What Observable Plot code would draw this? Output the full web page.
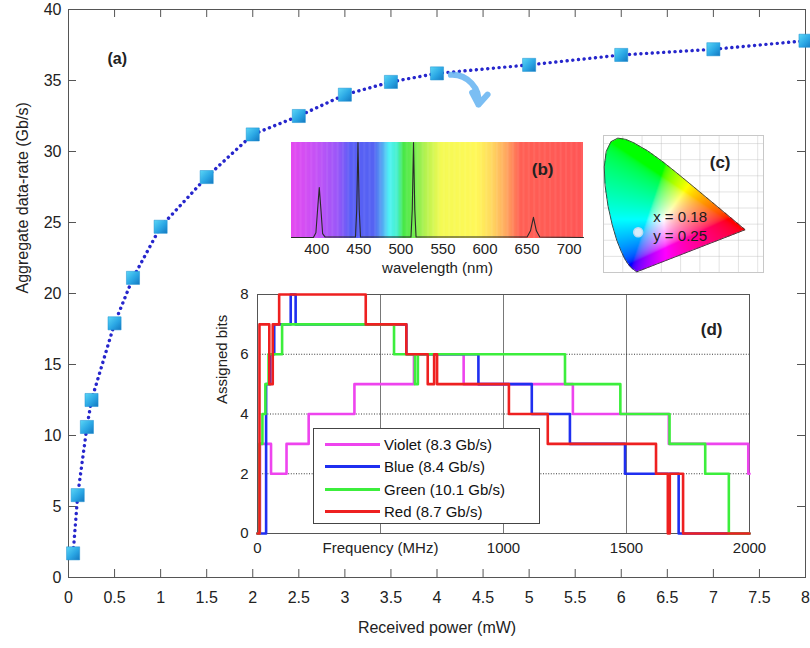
<!DOCTYPE html>
<html><head><meta charset="utf-8">
<script src="https://cdn.jsdelivr.net/npm/d3@7"></script>
<script src="https://cdn.jsdelivr.net/npm/@observablehq/plot@0.6"></script>
<style>
body{margin:0;background:#fff;}
#root{position:relative;width:810px;height:648px;font-family:"Liberation Sans",Arial,sans-serif;overflow:hidden;}
#root svg{position:absolute;}
.legend{position:absolute;background:#fff;border:1px solid #444;box-sizing:border-box;padding-top:4px;font-size:15px;color:#111;}
.legend .row{display:flex;align-items:center;height:22.5px;}
.legend .sw{display:inline-block;width:55px;height:3px;margin-left:11px;margin-right:4px;}
</style></head><body><div id="root"></div>
<script>
// ---------- (a) aggregate data-rate ----------
const powerMw = [0.05, 0.1, 0.2, 0.25, 0.5, 0.7, 1, 1.5, 2, 2.5, 3, 3.5, 4, 5, 6, 7, 8];
const rateGbps = [1.7, 5.8, 10.6, 12.5, 17.9, 21.1, 24.7, 28.2, 31.2, 32.5, 34.0, 34.9, 35.5, 36.1, 36.8, 37.2, 37.8];
const powerTicks = [0, 0.5, 1, 1.5, 2, 2.5, 3, 3.5, 4, 4.5, 5, 5.5, 6, 6.5, 7, 7.5, 8];
const rateTicks = [0, 5, 10, 15, 20, 25, 30, 35, 40];
const arrowFrom = [4.15, 35.4];
const arrowTo = [4.45, 33.3];

// ---------- (b) spectrum ----------
const waveTicks = [400, 450, 500, 550, 600, 650, 700];
const specStops = [370, 400, 425, 440, 468, 478, 486, 496, 503, 515, 530, 548, 590, 608, 625, 642, 717];
const specColors = ["#e44af0", "#c453f6", "#9a58f8", "#5a5ff6", "#5563f2", "#55a8f2", "#4ff2f6", "#47f0c8", "#48e848", "#70ec50", "#b8f250", "#f4fa55", "#fff858", "#ffd860", "#ffa860", "#ff6055", "#ff5656"];
const specWavelength = [370, 396, 399, 401, 403, 405, 407, 410, 446, 447.5, 449, 450.5, 452, 512, 513.5, 515, 516.5, 518, 650, 654, 657.5, 661, 665, 717];
const specIntensity  = [0.01, 0.01, 0.06, 0.3, 0.53, 0.3, 0.05, 0.015, 0.015, 0.3, 1.0, 0.3, 0.015, 0.015, 0.3, 1.0, 0.3, 0.015, 0.015, 0.08, 0.22, 0.08, 0.015, 0.01];

// ---------- (c) chromaticity ----------
const locusX = [0.1741, 0.1714, 0.1644, 0.1566, 0.1440, 0.1241, 0.1096, 0.0913, 0.0687, 0.0454, 0.0235, 0.0082, 0.0039, 0.0139, 0.0389, 0.0743, 0.1142, 0.1547, 0.2296, 0.3016, 0.3731, 0.4441, 0.5125, 0.5752, 0.6270, 0.6658, 0.6915, 0.7190, 0.7347];
const locusY = [0.0050, 0.0051, 0.0109, 0.0177, 0.0297, 0.0578, 0.0868, 0.1327, 0.2007, 0.2950, 0.4127, 0.5384, 0.6548, 0.7502, 0.8120, 0.8338, 0.8262, 0.8059, 0.7543, 0.6923, 0.6245, 0.5547, 0.4866, 0.4242, 0.3725, 0.3340, 0.3083, 0.2809, 0.2653];
const chromaX = [0.18];
const chromaY = [0.25];
const chromaGrid = [0.1, 0.2, 0.3, 0.4, 0.5, 0.6, 0.7, 0.8];

// ---------- (d) assigned bits ----------
const seriesNames = ["Violet (8.3 Gb/s)", "Blue (8.4 Gb/s)", "Green (10.1 Gb/s)", "Red (8.7 Gb/s)"];
const seriesColors = ["#ee44ee", "#1f2ff0", "#3cee3c", "#ee2020"];
const violetF = [0, 10, 55, 118, 208, 394, 636, 838, 1282, 1672, 1995, 2000];
const violetB = [0, 3, 2, 3, 4, 5, 6, 5, 4, 3, 2, 2];
const blueF = [0, 35, 52, 68, 135, 155, 605, 898, 1115, 1270, 1494, 1712, 2000];
const blueB = [0, 5, 6, 7, 8, 7, 6, 5, 4, 3, 2, 0, 0];
const greenF = [0, 8, 20, 32, 45, 100, 555, 640, 652, 1250, 1475, 1675, 1820, 1916, 2000];
const greenB = [0, 3, 4, 5, 6, 7, 6, 5, 6, 5, 4, 3, 2, 0, 0];
const redF = [0, 8, 48, 62, 88, 440, 605, 692, 718, 730, 1022, 1180, 1620, 1668, 1676, 1730, 2000];
const redB = [0, 7, 5, 7, 8, 7, 6, 5, 6, 5, 4, 3, 2, 0, 2, 0, 0];
const freqTicks = [0, 500, 1000, 1500, 2000];
const bitTicks = [0, 2, 4, 6, 8];

const FONT = "'Liberation Sans', Arial, sans-serif";
const root = document.getElementById("root");
function place(svg, left, top) { svg.style.left = left + "px"; svg.style.top = top + "px"; root.appendChild(svg); }

// ===== main chart =====
const rateData = powerMw.map((x, i) => ({x, y: rateGbps[i]}));
const W = 810, H = 648, mL = 68, mR = 5, mT = 9, mB = 71;
const fw = W - mL - mR, fh = H - mT - mB;
const defs = () => {
  const g = document.createElementNS("http://www.w3.org/2000/svg", "defs");
  g.innerHTML = `<linearGradient id="sq" x1="0" y1="0" x2="1" y2="1"><stop offset="0" stop-color="#5ad6f6"/><stop offset="0.55" stop-color="#2aa6e4"/><stop offset="1" stop-color="#1478c0"/></linearGradient>`;
  return g;
};
const main = Plot.plot({
  width: W, height: H, marginLeft: mL, marginRight: mR, marginTop: mT, marginBottom: mB,
  style: {fontFamily: FONT, fontSize: "16px", background: "transparent", color: "#222", overflow: "visible"},
  x: {domain: [0, 8], ticks: powerTicks, tickSize: 0, tickPadding: 14, label: null, tickFormat: d => String(d)},
  y: {domain: [0, 40], ticks: rateTicks, tickSize: 0, tickPadding: 7, label: null, tickFormat: d => String(d)},
  marks: [
    defs,
    Plot.frame({stroke: "#555"}),
    Plot.ruleX(powerTicks, {x: d => d, insetTop: fh - 8, stroke: "#555"}),
    Plot.ruleX(powerTicks, {x: d => d, insetBottom: fh - 8, stroke: "#555"}),
    Plot.ruleY(rateTicks, {y: d => d, insetRight: fw - 8, stroke: "#555"}),
    Plot.ruleY(rateTicks, {y: d => d, insetLeft: fw - 8, stroke: "#555"}),
    Plot.line(rateData, {x: "x", y: "y", stroke: "#2626cc", strokeWidth: 3.4, strokeDasharray: "0.1,5.6", strokeLinecap: "round"}),
    Plot.dot(rateData, {x: "x", y: "y", symbol: "square", r: 7.4, fill: "url(#sq)", stroke: "#1a8fd0", strokeWidth: 0.5}),
    Plot.arrow([0], {x1: arrowFrom[0], y1: arrowFrom[1], x2: arrowTo[0], y2: arrowTo[1], bend: 50, stroke: "#5aaef0", strokeOpacity: 0.8, strokeWidth: 6, headLength: 14, headAngle: 70}),
    Plot.text(["(a)"], {frameAnchor: "top-left", dx: 39, dy: 43, fontWeight: "bold", fontSize: 16}),
    Plot.text(["Received power (mW)"], {frameAnchor: "bottom", dy: 55, fontSize: 16}),
    Plot.text(["Aggregate data-rate (Gb/s)"], {frameAnchor: "left", dx: -46, rotate: -90, fontSize: 16})
  ]
});
place(main, 0, 0);

// ===== (b) spectrum inset =====
const specData = specWavelength.map((w, i) => ({w, v: specIntensity[i]}));
const spec = Plot.plot({
  width: 315, height: 140, marginLeft: 11, marginRight: 12, marginTop: 2, marginBottom: 42,
  style: {fontFamily: FONT, fontSize: "15px", background: "transparent", color: "#222", overflow: "visible"},
  x: {domain: [370, 717], ticks: waveTicks, tickSize: 0, tickPadding: 5, label: null},
  y: {domain: [0, 1], axis: null},
  color: {type: "linear", domain: specStops, range: specColors, interpolate: "rgb"},
  marks: [
    Plot.rect(d3.range(370, 717, 1), {x1: d => d, x2: d => Math.min(d + 1.6, 717), y1: 0, y2: 1, fill: d => d}),
    Plot.line(specData, {x: "w", y: "v", stroke: "#2a2a2a", strokeWidth: 1.1}),
    Plot.text(["(b)"], {frameAnchor: "top-right", dx: -30, dy: 20, fontWeight: "bold", fontSize: 17}),
    Plot.text(["wavelength (nm)"], {frameAnchor: "bottom", dy: 34, fontSize: 15})
  ]
});
place(spec, 280, 140);

// ===== (c) chromaticity inset =====
const locus = locusX.map((x, i) => [x, locusY[i]]);
function cieColor(x, y) {
  const yy = Math.max(y, 0.002);
  const X = x / yy, Y = 1, Z = (1 - x - yy) / yy;
  let r = Math.max(0, 3.2406 * X - 1.5372 * Y - 0.4986 * Z);
  let g = Math.max(0, -0.9689 * X + 1.8758 * Y + 0.0415 * Z);
  let b = Math.max(0, 0.0557 * X - 0.2040 * Y + 1.0570 * Z);
  const m = Math.max(r, g, b) || 1;
  const gam = v => { v /= m; return Math.round(255 * (v <= 0.0031308 ? 12.92 * v : 1.055 * Math.pow(v, 1 / 2.4) - 0.055)); };
  return `rgb(${gam(r)},${gam(g)},${gam(b)})`;
}
const locusClosed = locus.concat([locus[0]]).map(([x, y]) => ({x, y}));
const cie = Plot.plot({
  width: 162, height: 139, margin: 1,
  style: {fontFamily: FONT, fontSize: "15px", background: "transparent", color: "#222", overflow: "visible"},
  x: {domain: [0, 0.83], axis: null},
  y: {domain: [0, 0.85], axis: null},
  marks: [
    Plot.gridX(chromaGrid, {stroke: "#bbb", strokeOpacity: 0.6, strokeWidth: 0.7}),
    Plot.gridY(chromaGrid, {stroke: "#bbb", strokeOpacity: 0.6, strokeWidth: 0.7}),
    Plot.frame({stroke: "#c8c8c8"}),
    Plot.raster({x1: 0, x2: 0.83, y1: 0, y2: 0.85, pixelSize: 1, imageRendering: "auto",
      fill: (x, y) => cieColor(x, y),
      fillOpacity: (x, y) => d3.polygonContains(locus, [x, y]) ? 1 : 0}),
    Plot.line(locusClosed, {x: "x", y: "y", stroke: "#222", strokeWidth: 0.8}),
    Plot.dot(chromaX.map((x, i) => ({x, y: chromaY[i]})), {x: "x", y: "y", r: 4.5, fill: "#d6ecfa", stroke: "#b8dcf4"}),
    Plot.text(chromaX.map((x, i) => ({x, y: chromaY[i], t: `x = ${x.toFixed(2)}\ny = ${chromaY[i].toFixed(2)}`})), {x: "x", y: "y", text: "t", textAnchor: "start", dx: 15, dy: -7, lineHeight: 1.25, fill: "#1a1a1a", fontSize: 15}),
    Plot.text(["(c)"], {frameAnchor: "top-right", dx: -33, dy: 20, fontWeight: "bold", fontSize: 17})
  ]
});
place(cie, 602, 134);

// ===== (d) assigned bits inset =====
const stepSeries = [[violetF, violetB], [blueF, blueB], [greenF, greenB], [redF, redB]];
const bits = stepSeries.flatMap(([F, B], s) => F.map((f, i) => ({f, b: B[i], s: seriesNames[s]})));
const bitsPlot = Plot.plot({
  width: 550, height: 279, marginLeft: 52, marginRight: 6, marginTop: 10, marginBottom: 30,
  style: {fontFamily: FONT, fontSize: "15px", background: "transparent", color: "#222", overflow: "visible"},
  x: {domain: [0, 2000], ticks: freqTicks, tickSize: 0, tickPadding: 9, label: null, tickFormat: d => d === 500 ? "Frequency (MHz)" : String(d)},
  y: {domain: [0, 8], ticks: bitTicks, tickSize: 0, tickPadding: 9, label: null},
  color: {domain: seriesNames, range: seriesColors},
  marks: [
    Plot.gridX(freqTicks.slice(1, -1), {stroke: "#555", strokeOpacity: 1, strokeWidth: 0.8}),
    Plot.gridY(bitTicks.slice(1, -1), {stroke: "#222", strokeOpacity: 1, strokeWidth: 0.9, strokeDasharray: "1,1.6"}),
    Plot.frame({stroke: "#555"}),
    Plot.line(bits, {x: "f", y: "b", z: "s", stroke: "s", curve: "step-after", strokeWidth: 2.6}),
    Plot.text(["(d)"], {frameAnchor: "top-right", dx: -27, dy: 28, fontWeight: "bold", fontSize: 17}),
    Plot.text(["Assigned bits"], {frameAnchor: "left", dx: -35, dy: -10, rotate: -90, fontSize: 15})
  ]
});
place(bitsPlot, 205, 284);

// legend for (d)
const leg = document.createElement("div");
leg.className = "legend";
leg.style.left = "313px"; leg.style.top = "428px"; leg.style.width = "227px"; leg.style.height = "96px";
seriesNames.forEach((n, i) => {
  const row = document.createElement("div"); row.className = "row";
  const sw = document.createElement("span"); sw.className = "sw"; sw.style.background = seriesColors[i];
  const t = document.createElement("span"); t.textContent = n;
  row.appendChild(sw); row.appendChild(t); leg.appendChild(row);
});
root.appendChild(leg);
</script></body></html>
